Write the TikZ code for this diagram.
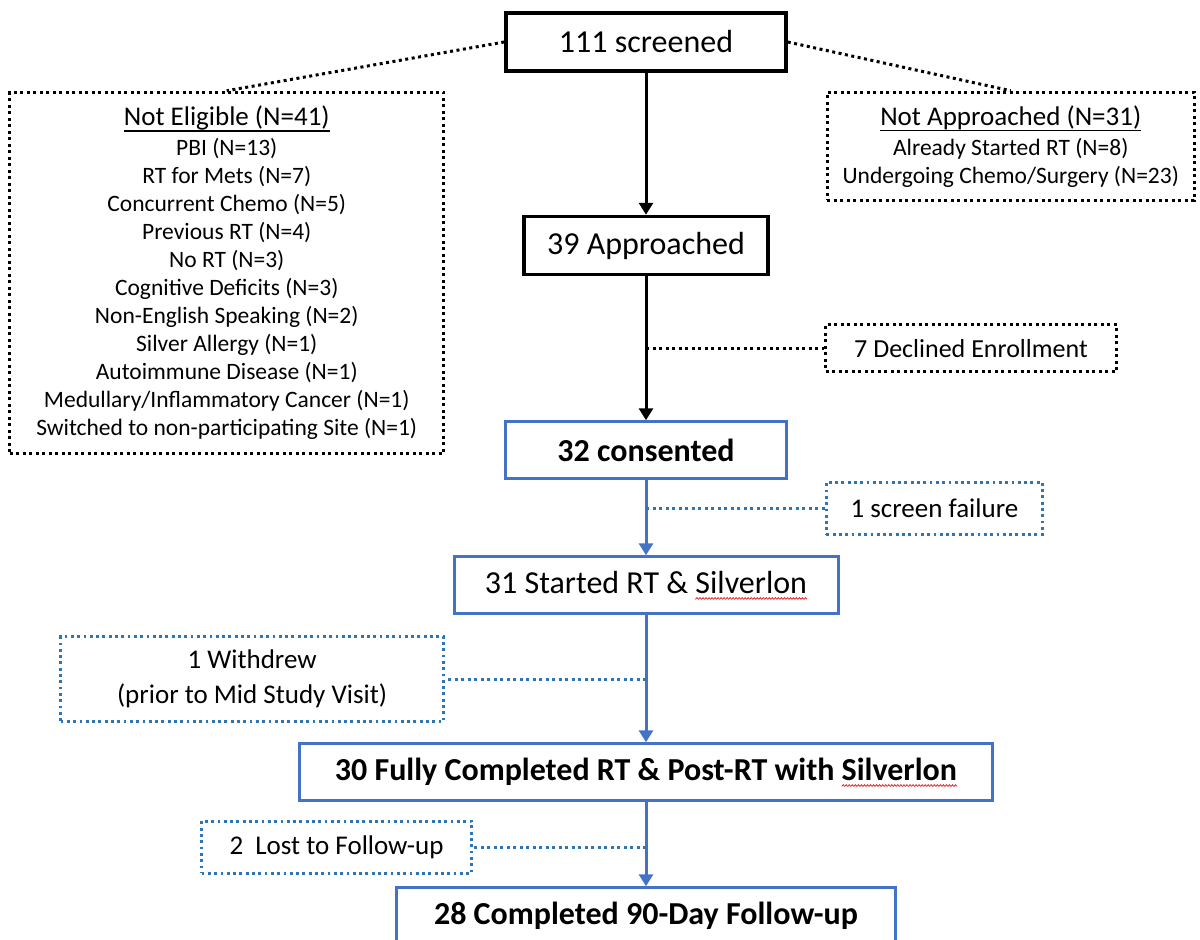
\documentclass[tikz,border=0pt]{standalone}
\usepackage{fontspec}
\setmainfont{Carlito}
\usetikzlibrary{positioning, arrows.meta}

\definecolor{flowblue}{RGB}{68,114,196}
\definecolor{sideblue}{RGB}{46,117,182}
\definecolor{spellred}{RGB}{225,40,40}
\newsavebox\wavebox
\newcommand\headline[1]{\setbox0\hbox{#1}\rlap{\rule[-6pt]{\wd0}{1.3pt}}#1}
\newcommand\spellwave[1]{\setbox0\hbox{#1}\rlap{\lower6pt\hbox to \wd0{\xleaders\copy\wavebox\hfill}}#1}

\begin{document}
\sbox\wavebox{\begin{pgfpicture}
  \pgfpathrectangle{\pgfpointorigin}{\pgfqpoint{3pt}{1.8pt}}\pgfusepath{use as bounding box}
  \pgfsetlinewidth{0.8pt}\pgfsetstrokecolor{spellred}
  \pgfpathmoveto{\pgfpointorigin}\pgfpathlineto{\pgfqpoint{1.5pt}{1.8pt}}\pgfpathlineto{\pgfqpoint{3pt}{0pt}}
  \pgfusepath{stroke}
\end{pgfpicture}}
\begin{tikzpicture}[
    x=1pt, y=1pt,
    every node/.style={align=center, inner sep=4pt},
    mainbox/.style={draw=black, line width=3.5pt, minimum height=58pt, font=\fontsize{32}{38}\selectfont},
    bluebox/.style={draw=flowblue, line width=3pt, minimum height=57pt, font=\fontsize{32}{38}\selectfont},
    keybox/.style={bluebox, font=\fontsize{32}{38}\selectfont\bfseries},
    exclbox/.style={draw=black, line width=3pt, dash pattern=on 3pt off 3.5pt, font=\fontsize{23.5}{28}\selectfont},
    dropbox/.style={draw=sideblue, line width=2.8pt, dash pattern=on 2.8pt off 3.5pt, font=\fontsize{27}{35}\selectfont},
    arrow/.style={-{Triangle[width=14pt,length=12pt]}, line width=3pt},
    dotline/.style={line width=3pt, dash pattern=on 3pt off 3.5pt}
]
\clip (0,0) rectangle (1200,-940);

% Main flow
\node[mainbox, minimum width=280pt] (screened) at (646,-42) {111 screened};
\node[mainbox, minimum width=244pt, below=142pt of screened] (approached) {39 Approached};
\node[keybox, minimum width=281pt, below=144pt of approached] (consented) {32 consented};
\node[bluebox, minimum width=384pt, below=75pt of consented] (started) {31 Started RT \& \spellwave{Silverlon}};
\node[keybox, minimum width=693pt, below=127pt of started] (fully) {30 Fully Completed RT \& Post-RT with \spellwave{Silverlon}};
\node[keybox, minimum width=499pt, below=84pt of fully] (followup) {28 Completed 90-Day Follow-up};

% Screening exclusions
\node[exclbox, minimum width=434pt, minimum height=361pt, below left=18pt and 59pt of screened] (noteligible) {{\fontsize{27}{30}\selectfont\headline{Not Eligible (N=41)}}\\[2pt]
    PBI (N=13)\\ RT for Mets (N=7)\\ Concurrent Chemo (N=5)\\ Previous RT (N=4)\\ No RT (N=3)\\
    Cognitive Deficits (N=3)\\ Non-English Speaking (N=2)\\ Silver Allergy (N=1)\\ Autoimmune Disease (N=1)\\
    Medullary/Inflammatory Cancer (N=1)\\ Switched to non-participating Site (N=1)};
\node[exclbox, minimum width=367pt, minimum height=108pt, below right=18pt and 38pt of screened] (notapproached) {{\fontsize{27}{30}\selectfont\headline{Not Approached (N=31)}}\\[2pt]
    Already Started RT (N=8)\\ Undergoing Chemo/Surgery (N=23)};

% Drop-outs along the spine
\coordinate[below=72pt of approached] (declpt);
\node[exclbox, font=\fontsize{26}{32}\selectfont, minimum width=291pt, minimum height=47pt, right=178pt of declpt] (declined) {7 Declined Enrollment};
\coordinate[below=28pt of consented] (failpt);
\node[dropbox, minimum width=216pt, minimum height=52pt, right=179pt of failpt] (screenfail) {1 screen failure};
\coordinate[below=64pt of started] (withpt);
\node[dropbox, minimum width=383pt, minimum height=85pt, left=201pt of withpt] (withdrew) {1 Withdrew\\(prior to Mid Study Visit)};
\coordinate[below=45pt of fully] (lostpt);
\node[dropbox, minimum width=270pt, minimum height=52pt, left=173pt of lostpt] (lost) {2\ \ Lost to Follow-up};

% Arrows
\draw[arrow] (screened) -- (approached);
\draw[arrow] (approached) -- (consented);
\draw[arrow, flowblue] (consented) -- (started);
\draw[arrow, flowblue] (started) -- (fully);
\draw[arrow, flowblue] (fully) -- (followup);

% Dotted side links
\draw[dotline] (screened.west) -- (noteligible.north);
\draw[dotline] (screened.east) -- (notapproached.north);
\draw[dotline] (declpt) -- (declined);
\draw[dotline, sideblue] (failpt) -- (screenfail);
\draw[dotline, sideblue] (withpt) -- (withdrew);
\draw[dotline, sideblue] (lostpt) -- (lost);

\end{tikzpicture}
\end{document}
